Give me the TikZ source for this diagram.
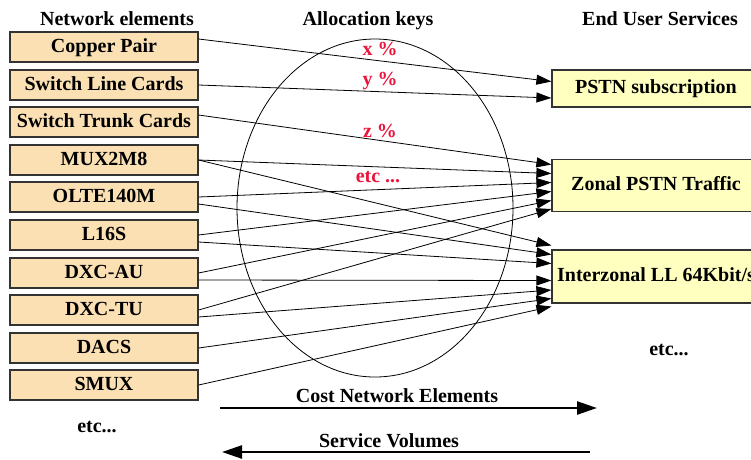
\documentclass[tikz,border=0pt]{standalone}
\usepackage{fontspec}
\setmainfont{Liberation Serif}
\usetikzlibrary{arrows.meta, calc}
\definecolor{elemfill}{RGB}{251,224,180}
\definecolor{servfill}{RGB}{255,255,192}
\definecolor{keyred}{RGB}{235,20,60}

\begin{document}
\begin{tikzpicture}[x=1pt, y=-1pt,
        every node/.style = {font=\fontsize{20}{24}\selectfont\bfseries},
        elem/.style = {draw=black!80, line width=1.2pt, fill=elemfill, minimum width=188pt, minimum height=30pt, inner sep=0pt, text height=14pt, text depth=4pt},
        serv/.style = {draw=black!80, line width=1.2pt, fill=servfill, minimum width=208pt, inner sep=0pt, text height=14pt, text depth=4pt},
        key/.style = {text=keyred, anchor=base},
        link/.style = {-{Triangle[length=15pt, width=10pt]}, line width=0.8pt},
        flow/.style = {-{Triangle[length=20pt, width=13pt]}, line width=2.5pt}]
                \clip (0,0) rectangle (751,459);

                % headings
                \node[anchor=base] at (117, 25) (hdelem) {Network elements};
                \node[anchor=base] at (368, 25) (hdkeys) {Allocation keys};
                \node[anchor=base] at (660, 25) (hdserv) {End User Services};

                % network elements
                \node[elem] at (104, 47) (copper) {Copper Pair};
                \node[elem] at (104, 85) (slc) {Switch Line Cards};
                \node[elem] at (104, 122) (stc) {Switch Trunk Cards};
                \node[elem] at (104, 160) (mux) {MUX2M8};
                \node[elem] at (104, 197) (olte) {OLTE140M};
                \node[elem] at (104, 235) (l16s) {L16S};
                \node[elem] at (104, 273) (dxcau) {DXC-AU};
                \node[elem] at (104, 310) (dxctu) {DXC-TU};
                \node[elem] at (104, 348) (dacs) {DACS};
                \node[elem] at (104, 385) (smux) {SMUX};
                \node[anchor=base] at (97, 432) (etcelem) {etc...};

                % end user services
                \node[serv, minimum height=37pt] at (656, 88.5) (sub) {PSTN subscription};
                \node[serv, minimum height=52pt] at (656, 185.5) (zonal) {Zonal PSTN Traffic};
                \node[serv, minimum height=53pt] at (656, 276.5) (inter) {Interzonal LL 64Kbit/s};
                \node[anchor=base] at (669, 355) (etcserv) {etc...};

                % allocation keys
                \draw[line width=0.8pt] (375, 208) ellipse (138 and 169);
                \node[key] at (380, 55) (kx) {x \%};
                \node[key] at (380, 85) (ky) {y \%};
                \node[key] at (380, 137) (kz) {z \%};
                \node[key] at (378, 182) (ketc) {etc ...};

                \draw[link] ($(copper.east)+(0,-8)$) -- ($(sub.west)+(0,-7)$);
                \draw[link] (slc.east) -- ($(sub.west)+(0,9.5)$);

                \draw[link] ($(stc.east)+(0,-7)$) -- ($(zonal.west)+(0,-21)$);
                \draw[link] (mux.east) -- ($(zonal.west)+(0,-12)$);
                \draw[link] (olte.east) -- ($(zonal.west)+(0,-3)$);
                \draw[link] (l16s.east) -- ($(zonal.west)+(0,6)$);
                \draw[link] (dxcau.east) -- ($(zonal.west)+(0,15)$);
                \draw[link] (dxctu.east) -- ($(zonal.west)+(0,23.5)$);

                \draw[link] (mux.east) -- ($(inter.west)+(0,-31)$);
                \draw[link] ($(olte.east)+(0,7)$) -- ($(inter.west)+(0,-22)$);
                \draw[link] ($(l16s.east)+(0,7)$) -- ($(inter.west)+(0,-13)$);
                \draw[link] ($(dxcau.east)+(0,7)$) -- ($(inter.west)+(0,4)$);
                \draw[link] ($(dxctu.east)+(0,7)$) -- ($(inter.west)+(0,13.5)$);
                \draw[link] (dacs.east) -- ($(inter.west)+(0,22)$);
                \draw[link] (smux.east) -- ($(inter.west)+(0,30)$);

                % directions
                \coordinate (costL) at (220, 408);
                \coordinate (costR) at (597, 408);
                \coordinate (volR) at (590, 452);
                \coordinate (volL) at (222, 452);
                \node[anchor=base] at (397, 402) (cost) {Cost Network Elements};
                \node[anchor=base] at (389, 447) (vol) {Service Volumes};
                \draw[flow] (costL) -- (costR);
                \draw[flow] (volR) -- (volL);
            \end{tikzpicture}
\end{document}
